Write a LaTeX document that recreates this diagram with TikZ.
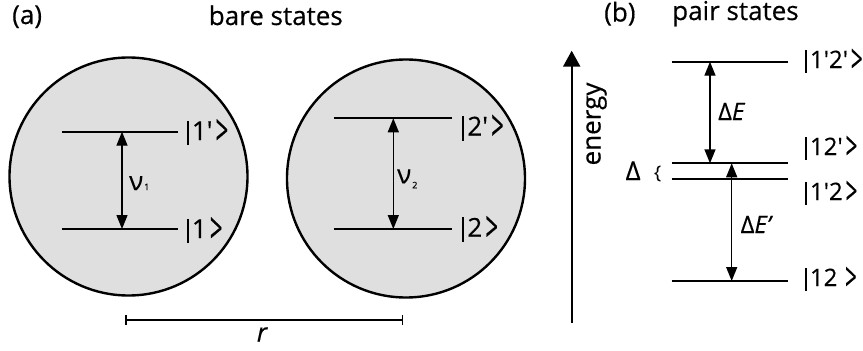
\documentclass[tikz,border=0pt]{standalone}
\usepackage{fontspec}
\setmainfont{Open Sans}[FakeBold=0.4]
\usetikzlibrary{arrows.meta}
\newcommand{\qs}{\textquotesingle}
\newcommand{\kt}[1]{\rule[-0.2em]{0.08em}{0.95em}\kern0.12em #1\kern0.12em\smash{\raisebox{-0.2em}{\scalebox{0.85}[1.65]{>}}}}
\begin{document}
\begin{tikzpicture}[x=1pt,y=-1pt,
  lbl/.style={font=\fontsize{26}{30}\selectfont, inner sep=0pt},
  lblb/.style={font=\fontsize{24}{28}\selectfont, inner sep=0pt},
  ttl/.style={font=\fontsize{26}{30}\selectfont, inner sep=0pt},
  level/.style={line width=1.7pt},
  dbl/.style={line width=1.4pt, {Triangle[length=14pt,width=11pt]}-{Triangle[length=14pt,width=11pt]}},
  atom/.style={circle, draw, line width=2.4pt, fill=gray!25, minimum size=238pt, inner sep=0pt}]
\useasboundingbox (0,0) rectangle (863,351);
% titles
\node[ttl, anchor=base west] (pa) at (12,24) {(a)};
\node[ttl, anchor=base] (bare) at (275.8,25) {bare states};
\node[ttl, anchor=base west] (pb) at (604,21.5) {(b)};
\node[ttl, anchor=base west] (pair) at (672,20) {pair states};
% atoms
\node[atom] (c1) at (128.5,176.5) {};
\node[atom] (c2) at (406,178.5) {};
% atom 1 levels
\coordinate (u1L) at (62,131.7); \coordinate (u1R) at (178,131.7);
\coordinate (d1L) at (62,229);   \coordinate (d1R) at (178,229);
\draw[level] (u1L) -- (u1R);
\draw[level] (d1L) -- (d1R);
\coordinate (a1t) at (122,131.7); \coordinate (a1b) at (122,229);
\draw[dbl] (a1t) -- (a1b);
\node[lbl, anchor=base west] (k1p) at (186.5,140) {\kt{1\qs}};
\node[lbl, anchor=base west] (k1) at (186.5,238) {\kt{1}};
\node[lbl, anchor=base west] (nu1) at (129,190) {ν{\fontsize{9}{10}\selectfont\kern1pt 1}};
% atom 2 levels
\coordinate (u2L) at (334,118.3); \coordinate (u2R) at (451.7,118.3);
\coordinate (d2L) at (334,229);   \coordinate (d2R) at (451.7,229);
\draw[level] (u2L) -- (u2R);
\draw[level] (d2L) -- (d2R);
\coordinate (a2t) at (393.3,118.3); \coordinate (a2b) at (393.3,229);
\draw[dbl] (a2t) -- (a2b);
\node[lbl, anchor=base west] (k2p) at (462,135.5) {\kt{2\qs}};
\node[lbl, anchor=base west] (k2) at (462,236.7) {\kt{2}};
\node[lbl, anchor=base west] (nu2) at (397,183.3) {ν\raisebox{-5pt}{\fontsize{9}{10}\selectfont\kern1pt 2}};
% distance r
\coordinate (rL) at (125,320); \coordinate (rR) at (403.3,320);
\draw[line width=1.6pt, {Bar[width=10pt]}-{Bar[width=10pt]}] (rL) -- (rR);
\node[lbl, anchor=base] (r) at (262,341.5) {\itshape r};
% energy axis
\coordinate (eb) at (571.7,323); \coordinate (et) at (571.7,50.7);
\draw[line width=2.2pt, -{Triangle[length=16pt,width=17pt]}] (eb) -- (et);
\node[ttl, rotate=90, anchor=base] (en) at (600.5,124) {energy};
% pair levels
\coordinate (p1L) at (671.7,61.7);  \coordinate (p1R) at (788.3,61.7);
\coordinate (p2L) at (671.7,163.3); \coordinate (p2R) at (788.3,163.3);
\coordinate (p3L) at (671.7,179);   \coordinate (p3R) at (788.3,179);
\coordinate (p4L) at (671.7,281);   \coordinate (p4R) at (788.3,281);
\draw[level] (p1L) -- (p1R);
\draw[level] (p2L) -- (p2R);
\draw[level] (p3L) -- (p3R);
\draw[level] (p4L) -- (p4R);
\coordinate (e1t) at (710,61.7);    \coordinate (e1b) at (710,163.3);
\coordinate (e2t) at (731.7,163.3); \coordinate (e2b) at (731.7,281);
\draw[dbl] (e1t) -- (e1b);
\draw[dbl] (e2t) -- (e2b);
\node[lblb, anchor=base west] (dE) at (718,120) {Δ\textit{E}};
\node[lblb, anchor=base west] (dEp) at (740.5,233) {Δ\textit{E’}};
\node[lblb, anchor=base west] (kp1) at (805,68) {\kt{1\qs 2\qs}};
\node[lblb, anchor=base west] (kp2) at (805,155) {\kt{12\qs}};
\node[lblb, anchor=base west] (kp3) at (805,200) {\kt{1\qs 2}};
\node[lblb, anchor=base west] (kp4) at (805,286) {\kt{12\kern0.2em}};
\node[ttl, anchor=base west] (dl) at (625.5,180) {Δ};
\node[inner sep=0pt, anchor=base west, font=\fontsize{18}{20}\selectfont] (br) at (654,178.5) {\{};
\end{tikzpicture}
\end{document}
